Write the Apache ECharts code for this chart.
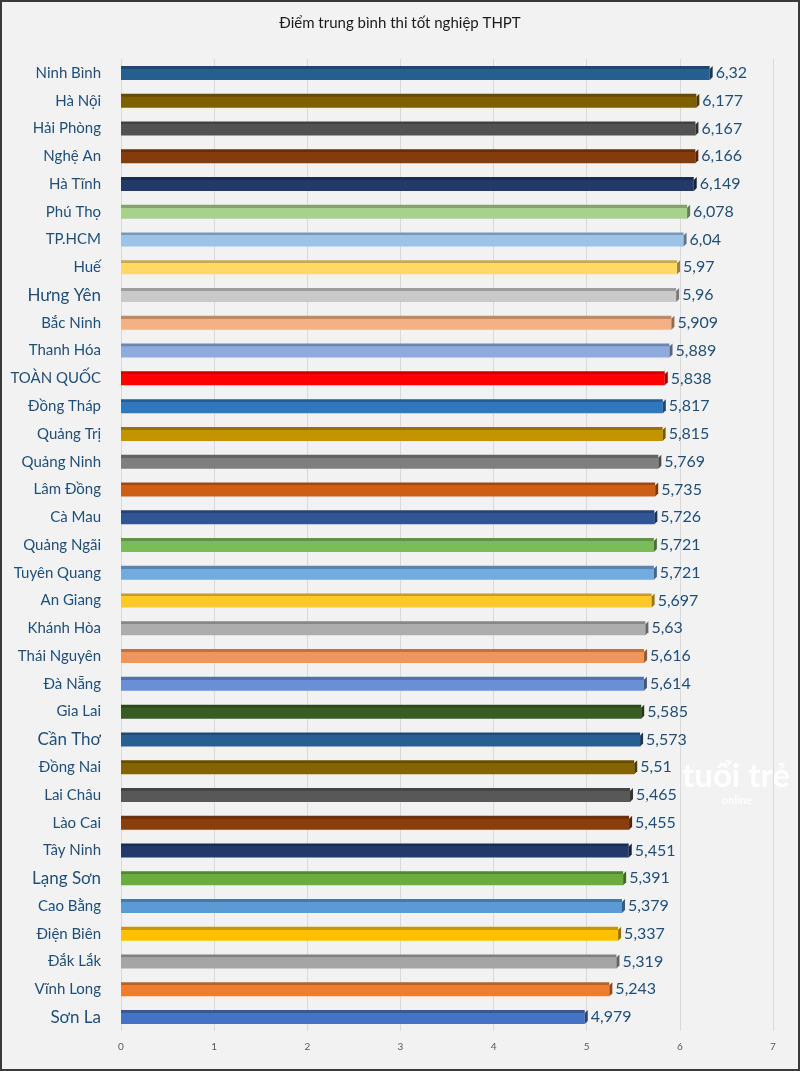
<!DOCTYPE html>
<html>
<head>
<meta charset="utf-8">
<script src="https://cdn.jsdelivr.net/npm/echarts@6/dist/echarts.min.js"></script>
<style>
  html, body { margin: 0; padding: 0; background: #f2f2f2; }
  #wrap { position: relative; width: 800px; height: 1071px; }
  #chart { width: 800px; height: 1071px; }
  #frame { position: absolute; left: 0; top: 0; width: 800px; height: 1071px; box-sizing: border-box; border: 2px solid #3a3a3a; pointer-events: none; }
</style>
</head>
<body>
<div id="wrap"><div id="chart"></div><div id="frame"></div></div>
<script>
const title = 'Điểm trung bình thi tốt nghiệp THPT';
const provinces = ['Ninh Bình','Hà Nội','Hải Phòng','Nghệ An','Hà Tĩnh','Phú Thọ','TP.HCM','Huế','Hưng Yên','Bắc Ninh','Thanh Hóa','TOÀN QUỐC','Đồng Tháp','Quảng Trị','Quảng Ninh','Lâm Đồng','Cà Mau','Quảng Ngãi','Tuyên Quang','An Giang','Khánh Hòa','Thái Nguyên','Đà Nẵng','Gia Lai','Cần Thơ','Đồng Nai','Lai Châu','Lào Cai','Tây Ninh','Lạng Sơn','Cao Bằng','Điện Biên','Đắk Lắk','Vĩnh Long','Sơn La'];
const scores = [6.32,6.177,6.167,6.166,6.149,6.078,6.04,5.97,5.96,5.909,5.889,5.838,5.817,5.815,5.769,5.735,5.726,5.721,5.721,5.697,5.63,5.616,5.614,5.585,5.573,5.51,5.465,5.455,5.451,5.391,5.379,5.337,5.319,5.243,4.979];
const barColors = ['#255e91','#7f6000','#525252','#843c0c','#22396a','#a9d18e','#9dc3e6','#ffd966','#c9c9c9','#f4b183','#8faadc','#ff0000','#3077bd','#c49400','#7f7f7f','#cc5e16','#2f5597','#7abd58','#72abe0','#ffc82a','#adadad','#f09658','#6a8fd6','#385c23','#285f93','#836400','#585858','#8a3e0d','#22396a','#6aac40','#5b9bd5','#ffc000','#a5a5a5','#ed7d31','#4472c4'];
const bigLabels = ['Hưng Yên','Cần Thơ','Lạng Sơn','Sơn La'];
const xTicks = ['0','1','2','3','4','5','6','7'];

function shade(hex, f) {
  const n = parseInt(hex.slice(1), 16);
  let r = (n >> 16) & 255, g = (n >> 8) & 255, b = n & 255;
  r = Math.round(r * f); g = Math.round(g * f); b = Math.round(b * f);
  return 'rgb(' + r + ',' + g + ',' + b + ')';
}

const FONT = 'Lato, "Open Sans", sans-serif';
const chart = echarts.init(document.getElementById('chart'));

const barData = scores.map((v, i) => ({
  value: v,
  itemStyle: {
    color: {
      type: 'linear', x: 0, y: 0, x2: 0, y2: 1,
      colorStops: [
        { offset: 0, color: shade(barColors[i], 0.78) },
        { offset: 0.2, color: shade(barColors[i], 0.78) },
        { offset: 0.21, color: barColors[i] },
        { offset: 1, color: barColors[i] }
      ]
    }
  }
}));

chart.setOption({
  backgroundColor: '#f2f2f2',
  animation: false,
  title: {
    text: title, left: 'center', top: 11,
    textStyle: { fontFamily: FONT, fontSize: 15, fontWeight: 'normal', color: '#1a1a1a' }
  },
  grid: { left: 121, right: 27, top: 59, bottom: 40 },
  xAxis: {
    type: 'value', min: 0, max: 7, interval: 1,
    axisLine: { show: false }, axisTick: { show: false },
    splitLine: { show: true, lineStyle: { color: '#d9d9d9', width: 1 } },
    axisLabel: { color: '#595959', fontSize: 10, fontFamily: FONT, margin: 11,
      formatter: (v) => xTicks[Math.round(v)] }
  },
  yAxis: {
    type: 'category', inverse: true, data: provinces,
    axisLine: { show: false }, axisTick: { show: false },
    axisLabel: {
      margin: 20,
      formatter: (v) => bigLabels.includes(v) ? '{b|' + v + '}' : '{a|' + v + '}',
      rich: {
        a: { fontFamily: FONT, fontSize: 15, color: '#1f4e79' },
        b: { fontFamily: FONT, fontSize: 17, color: '#1f4e79' }
      }
    }
  },
  series: [
    {
      type: 'bar', data: barData, barWidth: 14,
      label: {
        show: true, position: 'right', distance: 6,
        fontFamily: FONT, fontSize: 16, color: '#1f4e79',
        formatter: (p) => String(p.value).replace('.', ',')
      },
      z: 2
    },
    {
      type: 'custom', z: 3, silent: true,
      data: scores.map((v, i) => [v, i]),
      encode: { x: 0, y: 1 },
      renderItem: function (params, api) {
        const i = api.value(1);
        const end = api.coord([api.value(0), i]);
        const x = end[0], yc = end[1];
        const col = shade(barColors[params.dataIndex], 0.6);
        return {
          type: 'polygon',
          shape: { points: [[x, yc - 4], [x + 3, yc - 7], [x + 3, yc + 4], [x, yc + 7]] },
          style: { fill: col }
        };
      }
    }
  ],
  graphic: [
    { type: 'text', left: 682, top: 760, style: { text: 'tuổi trẻ', fontFamily: FONT, fontSize: 33, fontWeight: 'bold', fill: 'rgba(255,255,255,0.9)' } },
    { type: 'text', left: 722, top: 795, style: { text: 'online', fontFamily: FONT, fontSize: 11, fontWeight: 'bold', fill: 'rgba(255,255,255,0.9)' } }
  ]
});
</script>
</body>
</html>
